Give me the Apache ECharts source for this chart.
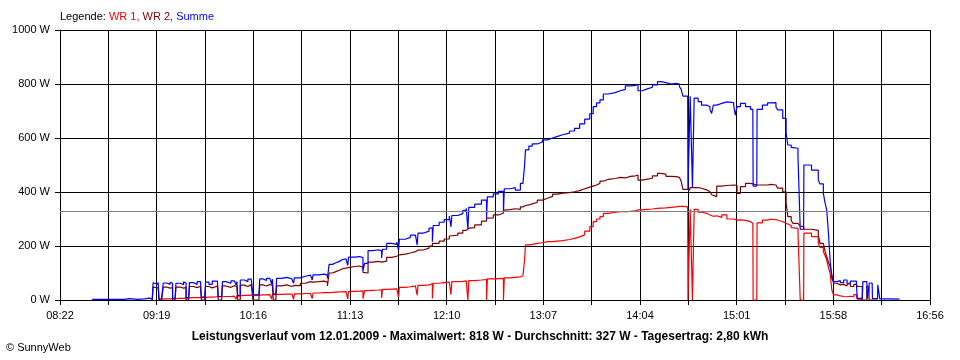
<!DOCTYPE html>
<html><head><meta charset="utf-8">
<script src="https://cdn.jsdelivr.net/npm/echarts@6/dist/echarts.min.js"></script>
<style>html,body{margin:0;padding:0;background:#fff}#c{width:960px;height:360px}</style>
</head><body><div id="c"></div>
<script>
// ---- data ----
const times = ["8:41","8:55","9:00","9:03","9:08","9:12","9:15","9:16:30","9:17","9:18","9:20","9:20:30","9:22","9:23","9:25","9:27","9:28","9:28:30","9:30","9:30:30","9:33","9:35","9:36","9:36:30","9:38","9:38:30","9:41","9:43","9:45","9:45:30","9:47:30","9:48","9:50","9:52","9:55","9:55:30","9:57:30","9:58","10:00","10:03","10:05","10:06","10:06:30","10:07","10:08","10:08:30","10:11","10:13","10:15","10:16","10:19:30","10:20","10:22","10:24","10:26","10:27","10:27:30","10:28","10:29:30","10:30","10:33","10:36","10:39","10:40","10:40:30","10:44","10:47","10:50","10:51","10:51:30","10:55","10:58","11:00","11:01","11:03","11:05","11:07","11:09","11:11","11:12","11:12:30","11:16","11:19","11:21","11:22","11:24","11:27","11:30","11:32","11:32:30","11:35","11:38","11:41","11:42","11:42:30","11:46","11:49","11:52","11:53","11:53:30","11:57","12:00","12:02","12:02:30","12:06","12:09","12:12","12:13","12:13:30","12:17","12:20","12:22","12:23","12:23:30","12:27","12:31","12:34","12:34:30","12:38","12:41","12:44","12:44:30","12:48","12:51","12:54","12:55:30","12:56:30","12:57","12:59","13:01","13:04","13:07","13:10","13:13","13:16","13:19","13:23","13:26","13:29","13:32","13:35","13:37","13:39","13:41","13:43","13:46","13:50","13:53","13:56","13:59","14:02","14:03:30","14:06","14:09","14:12","14:15","14:17","14:20","14:23","14:26","14:28","14:29","14:30","14:32:50","14:33","14:34:10","14:34:20","14:35:30","14:35:40","14:36:30","14:36:40","14:39","14:41","14:44","14:46","14:47","14:48","14:50","14:53","14:56","15:00","15:01","15:02","15:04","15:07","15:10","15:11:20","15:11:30","15:13:40","15:13:50","15:17","15:20","15:22","15:25","15:26","15:29","15:31","15:32","15:34","15:35","15:38","15:39:10","15:39:20","15:41:20","15:41:30","15:46","15:50","15:51","15:53","15:54","15:55","15:56","15:57","15:58","15:59","16:01","16:03","16:05","16:07","16:09","16:11","16:12:30","16:13","16:16","16:16:20","16:18:40","16:19","16:20","16:20:10","16:21:50","16:22","16:25","16:25:10","16:26:10","16:26:20","16:32","16:38"];
const wr1 = [null,null,null,null,null,null,null,null,null,null,null,null,3,4,4,5,5,5,5,6,6,7,7,8,8,9,9,9,10,10,10,11,11,12,12,12,12,13,13,14,14,3,15,15,16,17,17,18,18,18,18,19,19,20,20,4,20,21,21,21,22,22,23,3,23,24,24,25,5,26,27,27,28,28,29,30,30,31,31,4,32,33,34,5,35,36,37,38,8,39,40,41,43,10,47,49,52,53,18,54,56,60,6,62,64,66,68,20,68,69,71,72,0,72,74,76,0,78,79,80,0,82,84,86,90,92,150,204,206,210,212,216,216,218,220,224,228,234,241,255,272,290,300,309,321,325,327,327,328,330,334,334,336,337,339,340,341,343,345,347,348,347,345,346,0,0,336,336,0,0,336,325,321,315,312,310,312,306,315,300,296,296,297,295,290,284,284,0,0,286,296,299,298,292,290,284,278,276,268,265,255,253,0,0,248,235,210,195,179,165,148,120,99,37,19,15,13,12,14,12,20,13,3,null,null,null,null,null,null,null,null,null,null,null,null,null,null,null];
const wr2 = [null,null,null,null,null,null,null,0,48,45,47,0,0,48,44,50,46,0,0,48,44,50,47,0,0,50,46,51,48,0,0,50,45,52,48,0,0,52,47,53,48,50,50,0,0,55,50,57,53,0,0,56,52,58,54,54,55,0,0,52,56,50,55,54,53,62,68,64,66,68,70,66,52,100,105,110,116,118,122,120,124,126,122,102,100,140,143,140,144,144,158,162,165,167,170,174,179,182,185,186,192,200,210,210,218,226,237,238,240,248,258,265,266,268,278,292,303,304,315,322,333,335,338,336,345,348,350,352,356,362,370,377,384,392,396,398,401,405,412,418,422,426,432,440,447,450,454,452,458,460,463,444,448,451,460,469,466,458,457,454,452,440,410,408,408,416,416,416,416,416,416,414,408,401,395,390,383,422,424,426,426,425,395,420,432,430,426,426,426,426,426,428,426,422,414,401,358,309,295,284,280,274,272,270,262,258,241,210,204,180,160,140,123,95,62,56,58,52,60,50,58,54,50,0,0,52,48,0,0,0,0,0,null,null,null,null,null,null];
const summe = [2,2,5,2,4,7,3,3,64,58,66,4,5,63,58,66,62,6,7,62,57,67,63,9,9,64,58,68,62,11,11,66,58,70,65,13,13,68,62,71,64,56,68,16,17,74,68,77,72,19,19,78,72,80,76,60,77,22,22,80,84,78,83,62,82,88,92,88,74,93,96,92,80,132,138,143,150,152,156,128,159,161,157,110,136,183,186,182,156,188,210,206,215,184,225,232,240,244,204,248,255,266,216,276,288,298,311,271,313,320,332,340,262,343,355,370,303,382,393,402,327,412,416,407,432,438,500,556,570,578,585,593,600,606,612,618,626,636,652,670,690,716,730,741,763,768,775,780,793,795,799,775,782,788,797,809,805,800,802,800,790,780,755,753,410,416,755,757,416,416,748,735,722,716,706,691,722,728,734,731,722,685,716,728,716,706,706,422,422,706,722,730,731,715,704,673,617,574,565,562,531,531,262,259,500,481,444,430,395,360,333,247,148,80,68,72,64,74,62,70,70,62,6,5,68,66,5,5,63,60,5,5,56,54,4,3,3];
const xTickLabels = ["08:22","09:19","10:16","11:13","12:10","13:07","14:04","15:01","15:58","16:56"];
const average = 327;
const axisStartMin = 8*60+22, axisEndMin = 16*60+56, gridSteps = 18;

function toStep(t){
  const p = t.split(':').map(Number);
  const m = p[0]*60 + p[1] + (p[2]||0)/60;
  return (m - axisStartMin) / ((axisEndMin - axisStartMin) / gridSteps);
}
function pairs(vals){ return times.map((t,i)=>[toStep(t), vals[i]]); }

const FONT = 'Liberation Sans';
const chart = echarts.init(document.getElementById('c'), null, {renderer:'canvas'});
chart.setOption({
  animation:false,
  backgroundColor:'#ffffff',
  textStyle:{fontFamily:FONT},
  title:[
    {text:'{k|Legende: }{a|WR 1, }{b|WR 2, }{c|Summe}', left:60, top:11, padding:0,
     textStyle:{fontSize:11, lineHeight:12, fontWeight:'normal', rich:{
       k:{color:'#000000', fontSize:11, fontFamily:FONT, lineHeight:12},
       a:{color:'#ff0000', fontSize:11, fontFamily:FONT, lineHeight:12},
       b:{color:'#800000', fontSize:11, fontFamily:FONT, lineHeight:12},
       c:{color:'#0000ff', fontSize:11, fontFamily:FONT, lineHeight:12}}}},
    {text:'Leistungsverlauf vom 12.01.2009 - Maximalwert: 818 W - Durchschnitt: 327 W - Tagesertrag: 2,80 kWh',
     left:'center', top:331, padding:0,
     textStyle:{fontSize:12, lineHeight:12, fontWeight:'bold', color:'#000', fontFamily:FONT}},
    {text:'\u00A9 SunnyWeb', left:6, top:342, padding:0,
     textStyle:{fontSize:11, lineHeight:12, fontWeight:'normal', color:'#000', fontFamily:FONT}}
  ],
  grid:{left:60, right:30, top:30, bottom:60, containLabel:false},
  xAxis:{
    type:'value', min:0, max:gridSteps, interval:1,
    axisLine:{show:true, lineStyle:{color:'#000', width:1}},
    axisTick:{show:true, length:5, inside:false, lineStyle:{color:'#000'}},
    splitLine:{show:true, lineStyle:{color:'#000', width:1}},
    axisLabel:{margin:10, color:'#000', fontSize:11, fontFamily:FONT,
      formatter:function(v){ const k=Math.round(v); return k%2===0 ? xTickLabels[k/2] : ''; }}
  },
  yAxis:{
    type:'value', min:0, max:1000, interval:200,
    axisLine:{show:true, lineStyle:{color:'#000', width:1}},
    axisTick:{show:true, length:5, inside:false, lineStyle:{color:'#000'}},
    splitLine:{show:true, lineStyle:{color:'#000', width:1}},
    axisLabel:{margin:10, color:'#000', fontSize:11, fontFamily:FONT,
      formatter:function(v){ return String(v) + ' W'; }}
  },
  series:[
    {type:'line', name:'avg', data:[], z:1, silent:true,
     markLine:{silent:true, symbol:'none', label:{show:false},
       lineStyle:{color:'#808080', type:'solid', width:1}, data:[{yAxis:average}]}},
    {type:'line', name:'WR 1', data:pairs(wr1), showSymbol:false, z:2, step:'end',
     lineStyle:{color:'#ff0000', width:1.2}, itemStyle:{color:'#ff0000'}, connectNulls:false},
    {type:'line', name:'WR 2', data:pairs(wr2), showSymbol:false, z:3, step:'end',
     lineStyle:{color:'#800000', width:1.2}, itemStyle:{color:'#800000'}, connectNulls:false},
    {type:'line', name:'Summe', data:pairs(summe), showSymbol:false, z:4, step:'end',
     lineStyle:{color:'#0000ff', width:1.2}, itemStyle:{color:'#0000ff'}, connectNulls:false}
  ]
});
</script></body></html>
